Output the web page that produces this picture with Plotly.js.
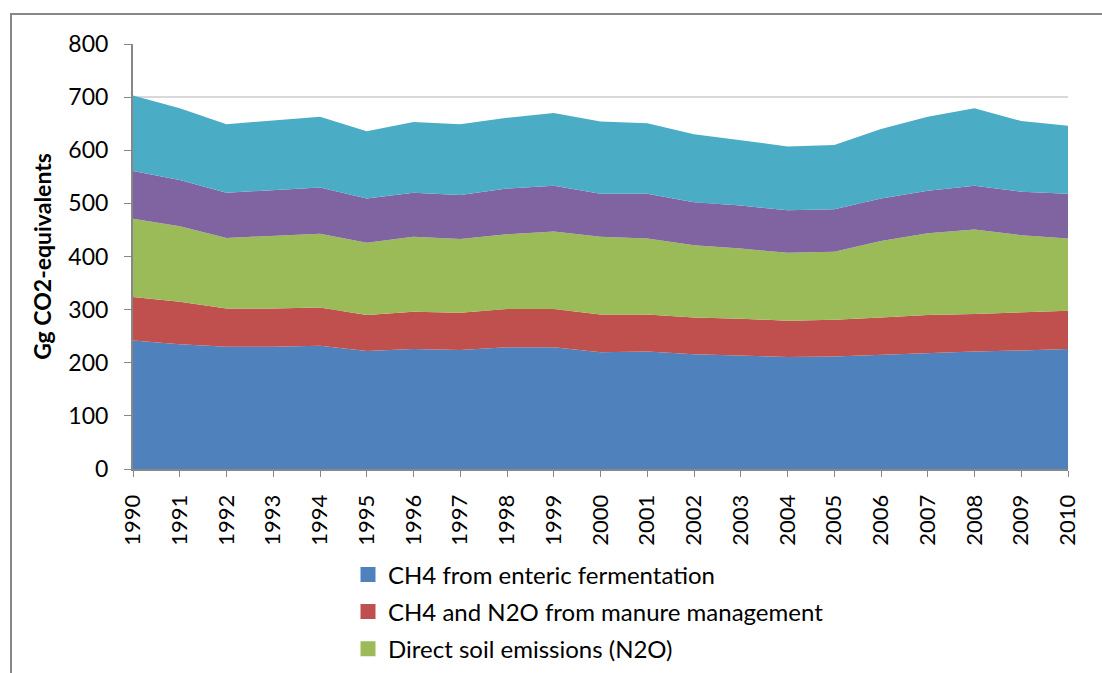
<!DOCTYPE html>
<html>
<head>
<meta charset="utf-8">
<script src="https://cdn.plot.ly/plotly-3.0.1.min.js"></script>
<style>
  html, body { margin: 0; padding: 0; width: 1102px; height: 673px; overflow: hidden; background: #fff; }
  #frame { position: absolute; left: 10px; top: 13px; width: 1200px; height: 800px; border: 2px solid #878787; box-sizing: border-box; }
  #chart { position: absolute; left: 0; top: 0; width: 1102px; height: 760px; }
</style>
</head>
<body>
<div id="frame"></div>
<div id="chart"></div>
<script>
const years = [1990,1991,1992,1993,1994,1995,1996,1997,1998,1999,2000,2001,2002,2003,2004,2005,2006,2007,2008,2009,2010];
const entericCH4 = [242,235,230,230,232,222,226,224,229,229,220,221,216,214,211,212,215,219,221,223,226];
const manureMgmt = [82,80,72,72,72,68,70,70,72,72,71,70,69,69,68,69,70,71,71,72,72];
const directSoil = [147,142,133,137,139,136,141,139,141,146,146,143,136,132,128,128,144,154,159,145,136];
const seriesFour = [90,87,85,86,87,83,83,83,86,86,81,84,81,81,80,80,80,80,82,82,84];
const seriesFive = [142,135,129,131,133,127,133,133,133,137,136,133,128,123,120,121,131,139,146,133,128];

const names = ["CH4 from enteric fermentation", "CH4 and N2O from manure management", "Direct soil emissions (N2O)", "Series 4", "Series 5"];
const colors = ["#4F81BD", "#C0504D", "#9BBB59", "#8064A2", "#4BACC6"];
const values = [entericCH4, manureMgmt, directSoil, seriesFour, seriesFive];

const traces = values.map((v, i) => ({
  x: years, y: v, name: names[i], type: "scatter", mode: "lines",
  stackgroup: "one", fillcolor: colors[i],
  line: { color: colors[i], width: 0 },
  showlegend: false,
  hoverinfo: "x+y+name"
}));

// legend-only entries (square swatches) for the visible legend items
const legendEntries = [0, 1, 2].map(i => ({
  x: [null], y: [null], name: names[i], type: "scatter", mode: "markers",
  marker: { symbol: "square", size: 15, color: colors[i] },
  showlegend: true, legendgroup: "g" + i, hoverinfo: "skip"
}));

const font = "Lato, 'Liberation Sans', sans-serif";
const layout = {
  width: 1102, height: 760,
  paper_bgcolor: "rgba(0,0,0,0)", plot_bgcolor: "#fff",
  margin: { l: 133, r: 34, t: 44, b: 291 },
  font: { family: font, color: "#000", size: 20 },
  xaxis: {
    range: [1990, 2010], tickvals: years, ticktext: years.map(String),
    tickangle: -90, ticks: "outside", ticklen: 6, tickcolor: "#878787",
    ticklabelstandoff: 9,
    showline: true, linecolor: "#878787", linewidth: 2, showgrid: false,
    tickfont: { size: 22, family: font }, zeroline: false, fixedrange: true
  },
  yaxis: {
    range: [0, 800], dtick: 100, ticks: "outside", ticklen: 7, tickcolor: "#878787",
    ticklabelstandoff: 11,
    showline: true, linecolor: "#878787", linewidth: 2,
    gridcolor: "#d9d9d9", gridwidth: 2, zeroline: false,
    tickfont: { size: 23, family: font },
    title: { text: "<b>Gg CO2-equivalents</b>", font: { size: 23, family: font }, standoff: 10 },
    fixedrange: true
  },
  legend: {
    x: (348 - 133) / 935, xanchor: "left", y: -0.196, yanchor: "top",
    traceorder: "grouped", tracegroupgap: 3,
    font: { size: 24, family: font }, bgcolor: "rgba(0,0,0,0)",
    itemwidth: 30
  },
  showlegend: true
};

Plotly.newPlot("chart", traces.concat(legendEntries), layout, { displayModeBar: false, staticPlot: true });
</script>
</body>
</html>
